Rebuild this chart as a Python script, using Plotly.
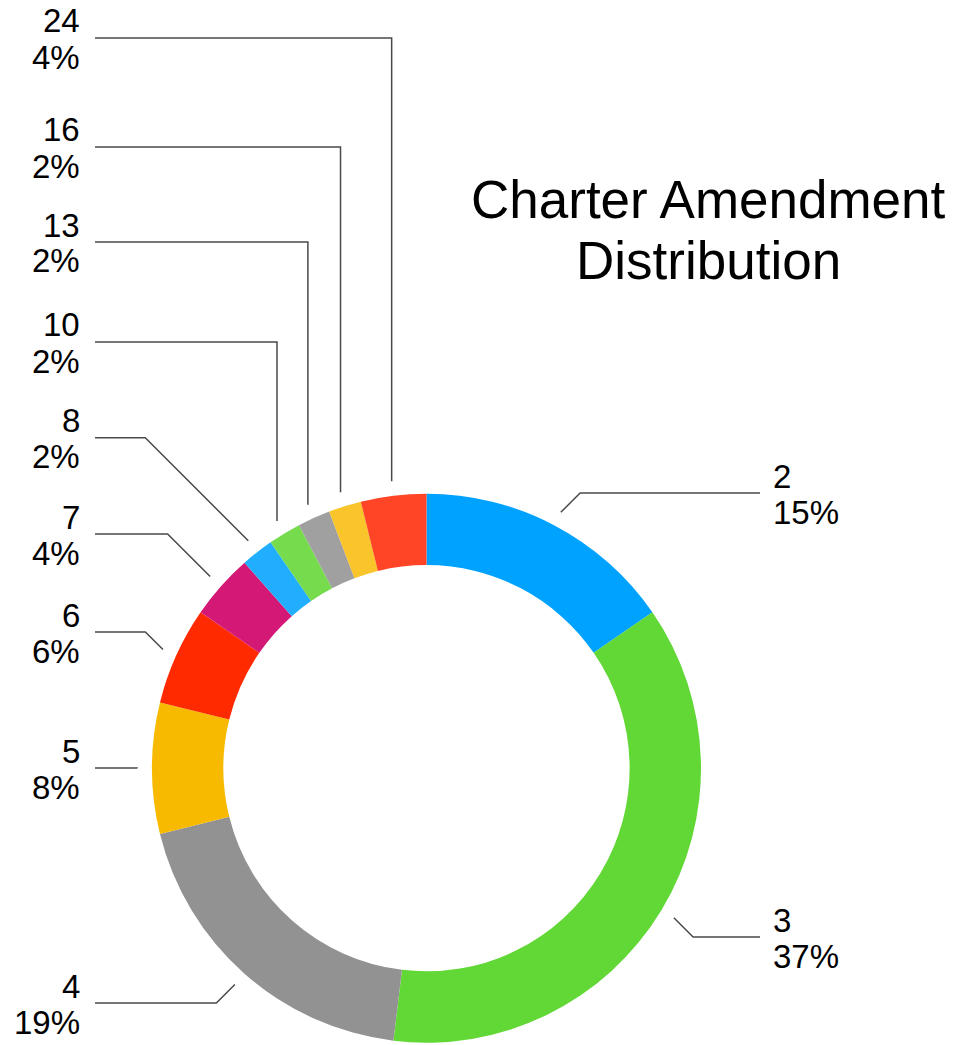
import plotly.graph_objects as go
import math

# ---- data ----
categories = ["2", "3", "4", "5", "6", "7", "8", "10", "13", "16", "24"]
counts = [8, 19, 10, 4, 3, 2, 1, 1, 1, 1, 2]
colors = ["#00A2FF", "#61D836", "#929292", "#F8BA00", "#FF2A00", "#D31876",
          "#22AEFF", "#76DB4D", "#A0A0A0", "#FAC42B", "#FF4526"]
title_lines = ["Charter Amendment", "Distribution"]

# ---- layout constants (pixels) ----
W, H = 956, 1045
CX, CY, R = 426.5, 768.2, 274.5
HOLE = 0.74
R_END = 289
# label layout: side, leader style, horizontal line y (px)
label_side = ["R", "R", "L", "L", "L", "L", "L", "L", "L", "L", "L"]
label_mode = ["diag", "diag", "diag", "diag", "diag", "diag", "diag", "vert", "vert", "vert", "vert"]
label_line_y = [493, 937, 1003, 768, 632, 534, 437.7, 342, 242, 147, 38]
LEFT_LINE_X, RIGHT_LINE_X = 95, 760
LEFT_TEXT_X, RIGHT_TEXT_X = 82, 771
NAME_DY, PCT_DY = -17, 19
FONT = "Liberation Sans, Arial, Helvetica, sans-serif"
LABEL_SIZE = 33
LINE_COLOR = "#4a4a4a"


def px(x):
    return x / W


def py(y):
    return 1 - y / H


fig = go.Figure()
fig.add_trace(go.Pie(
    labels=categories, values=counts, sort=False, direction="clockwise",
    rotation=0, hole=HOLE, textinfo="none", showlegend=False,
    marker=dict(colors=colors, line=dict(width=0)),
    domain=dict(x=[px(CX - R), px(CX + R)], y=[py(CY + R), py(CY - R)]),
))

total = sum(counts)
shapes = []
annotations = []
cum = 0
for i, (cat, v) in enumerate(zip(categories, counts)):
    mid = (cum + v / 2) / total
    cum += v
    th = 2 * math.pi * mid
    ex = CX + R_END * math.sin(th)
    ey = CY - R_END * math.cos(th)
    ly = label_line_y[i]
    if label_mode[i] == "vert":
        elx = ex
    else:
        d = abs(ey - ly)
        elx = ex - d if label_side[i] == "L" else ex + d
    sx = LEFT_LINE_X if label_side[i] == "L" else RIGHT_LINE_X
    path = f"M {px(sx)},{py(ly)} L {px(elx)},{py(ly)} L {px(ex)},{py(ey)}"
    shapes.append(dict(type="path", xref="paper", yref="paper", path=path,
                       line=dict(color=LINE_COLOR, width=1.5)))
    pct = round(v / total * 100)
    left = label_side[i] == "L"
    for txt, dy in ((cat, NAME_DY), (f"{pct}%", PCT_DY)):
        annotations.append(dict(
            x=px(LEFT_TEXT_X if left else RIGHT_TEXT_X), y=py(ly + dy),
            xref="paper", yref="paper", text=txt, showarrow=False,
            xanchor="right" if left else "left", yanchor="middle",
            align="right" if left else "left",
            font=dict(family=FONT, size=LABEL_SIZE, color="#000000")))

title_y = [199, 261]
for t, ty in zip(title_lines, title_y):
    annotations.append(dict(x=px(708), y=py(ty), xref="paper", yref="paper", text=t,
                            showarrow=False, xanchor="center", yanchor="middle",
                            font=dict(family=FONT, size=53, color="#000000")))

fig.update_layout(width=W, height=H, margin=dict(l=0, r=0, t=0, b=0),
                  paper_bgcolor="white", plot_bgcolor="white",
                  shapes=shapes, annotations=annotations)
fig.write_html("out.html", config={"displayModeBar": False},
               post_script="document.body.style.margin='0';document.body.style.padding='0';")
